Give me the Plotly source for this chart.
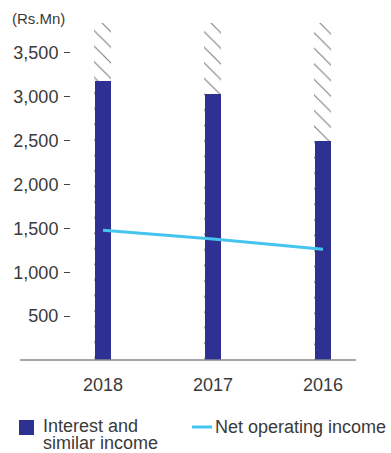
import plotly.graph_objects as go

# Financial years shown on the category axis
years = ["2018", "2017", "2016"]
# Interest and similar income (Rs.Mn)
interest_income = [3180, 3030, 2500]
# Net operating income (Rs.Mn)
net_operating_income = [1478, 1380, 1262]
# Hatched backdrop column height (Rs.Mn)
backdrop = [3840, 3840, 3840]
y_ticks = [500, 1000, 1500, 2000, 2500, 3000, 3500]

NAVY = "#2e3192"
SKY = "#45c4f0"
TEXT = "#3a3a3a"
FONT = "Liberation Sans"

W, H = 391, 453
L, R, T, B = 71, 35, 23, 93
PW, PH = W - L - R, H - T - B


def px_x(px):
    return (px - L) / PW


def px_y(py):
    return (H - B - py) / PH


xpos = list(range(len(years)))

fig = go.Figure()

fig.add_trace(go.Bar(
    x=[v - 0.006 for v in xpos], y=backdrop, width=0.155,
    marker=dict(color="white", line=dict(width=0),
                pattern=dict(shape="\\", fgcolor="#000000", bgcolor="white",
                             size=11, solidity=0.1)),
    hoverinfo="skip", showlegend=False,
))
fig.add_trace(go.Bar(
    x=xpos, y=interest_income, width=0.145, name="Interest and similar income",
    marker=dict(color=NAVY, line=dict(width=0)), showlegend=False,
))
fig.add_trace(go.Scatter(
    x=xpos, y=net_operating_income, mode="lines", name="Net operating income",
    line=dict(color=SKY, width=3), showlegend=False,
))

# Baseline running under the value labels
fig.add_shape(type="line", xref="paper", yref="paper",
              x0=px_x(20), x1=px_x(356), y0=0, y1=0,
              line=dict(color="#8a8a8a", width=1.5))

# Unit label
fig.add_annotation(xref="paper", yref="paper", x=px_x(10), y=px_y(18),
                   text="(Rs.Mn)", showarrow=False, xanchor="left", yanchor="middle",
                   font=dict(family=FONT, size=15, color=TEXT))

# Legend
fig.add_shape(type="rect", xref="paper", yref="paper",
              x0=px_x(19), x1=px_x(34), y0=px_y(420), y1=px_y(435),
              fillcolor=NAVY, line=dict(width=0))
for line_text, cy in (("Interest and", 426), ("similar income", 443)):
    fig.add_annotation(xref="paper", yref="paper", x=px_x(42), y=px_y(cy),
                       text=line_text, showarrow=False, borderpad=0,
                       xanchor="left", yanchor="middle",
                       font=dict(family=FONT, size=18, color=TEXT))
fig.add_shape(type="line", xref="paper", yref="paper",
              x0=px_x(192), x1=px_x(212), y0=px_y(427), y1=px_y(427),
              line=dict(color=SKY, width=3))
fig.add_annotation(xref="paper", yref="paper", x=px_x(214), y=px_y(427),
                   text="Net operating income", showarrow=False, borderpad=0,
                   xanchor="left", yanchor="middle",
                   font=dict(family=FONT, size=18, color=TEXT))

fig.update_layout(
    width=W, height=H,
    margin=dict(l=L, r=R, t=T, b=B, pad=0),
    paper_bgcolor="white", plot_bgcolor="white",
    barmode="overlay", bargap=0,
    showlegend=False,
    font=dict(family=FONT, color=TEXT),
)
fig.update_xaxes(
    range=[-0.291, 2.3], tickvals=xpos, ticktext=years,
    showgrid=False, zeroline=False, showline=False, ticks="",
    tickfont=dict(family=FONT, size=18, color=TEXT),
    ticklabelstandoff=12, fixedrange=True,
)
fig.update_yaxes(
    range=[0, 3840], tickvals=y_ticks,
    ticktext=[f"{v:,}" for v in y_ticks],
    showgrid=False, zeroline=False, showline=False,
    ticks="outside", ticklen=6, tickwidth=1, tickcolor="#444444",
    tickfont=dict(family=FONT, size=18, color=TEXT),
    ticklabelstandoff=2, fixedrange=True,
)

fig.write_html("out.html", config={"displayModeBar": False})
